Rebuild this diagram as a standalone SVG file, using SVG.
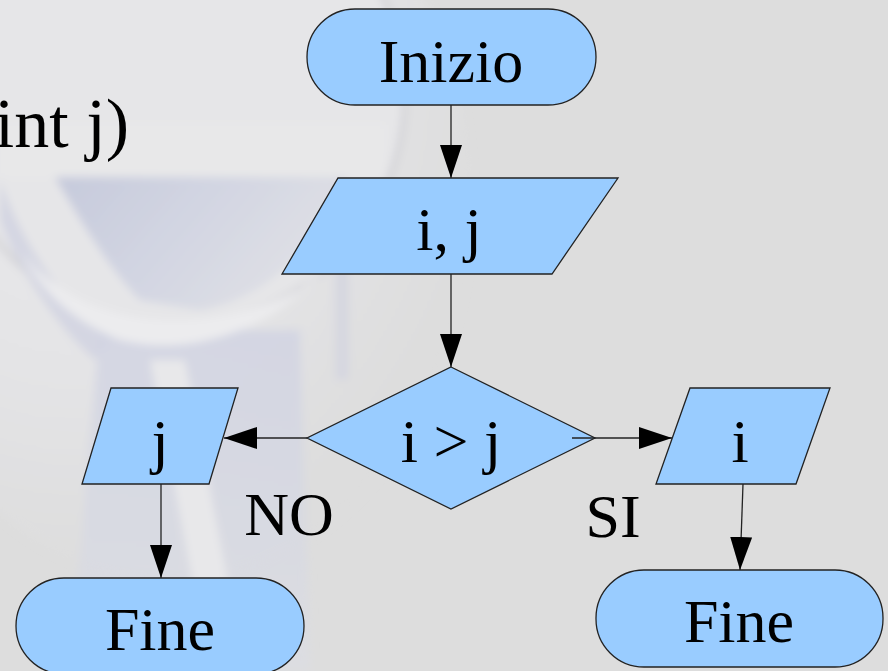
<svg xmlns="http://www.w3.org/2000/svg" width="888" height="671" viewBox="0 0 888 671">
  <defs>
    <style>
      .node { fill: #99ccff; stroke: #222; stroke-width: 1.3; }
      .label { font-family: "Liberation Serif", "Times New Roman", serif; font-size: 62px; fill: #000; text-anchor: middle; }
      .edge { fill: none; stroke: #222; stroke-width: 1.3; marker-end: url(#arrow); }
    </style>
    <marker id="arrow" viewBox="0 0 33 22" refX="33" refY="11" markerWidth="33" markerHeight="22" markerUnits="userSpaceOnUse" orient="auto">
      <path d="M0,0 L33,11 L0,22 z" fill="#000"/>
    </marker>
    <filter id="soft" x="-20%" y="-20%" width="140%" height="140%">
      <feGaussianBlur stdDeviation="4"/>
    </filter>
    <radialGradient id="glow" cx="0.35" cy="0.3" r="0.7">
      <stop offset="0" stop-color="#ebebed"/>
      <stop offset="0.6" stop-color="#e4e4e6"/>
      <stop offset="1" stop-color="#dddddd"/>
    </radialGradient>
    <linearGradient id="blueish" x1="0" y1="0" x2="1" y2="0.4">
      <stop offset="0" stop-color="#c6cadc"/>
      <stop offset="0.5" stop-color="#d2d5e2"/>
      <stop offset="1" stop-color="#dfe0e5"/>
    </linearGradient>
    <linearGradient id="blueishV" x1="0" y1="0" x2="0" y2="1">
      <stop offset="0" stop-color="#d0d3e2"/>
      <stop offset="1" stop-color="#dcdde3"/>
    </linearGradient>
  </defs>

  <!-- background -->
  <rect width="888" height="671" fill="#dddddd"/>

  <!-- faded logo in the background -->
  <g id="watermark" filter="url(#soft)">
    <ellipse cx="170" cy="200" rx="300" ry="380" fill="url(#glow)"/>
    <circle cx="175" cy="95" r="230" fill="#e6e6e8" stroke="#d4d4d8" stroke-width="6"/>
    <rect x="0" y="125" width="385" height="52" fill="#e8e8e9"/>
    <path d="M55,177 L345,177 L330,215 C300,260 260,300 200,310 L140,300 C110,270 80,220 55,177 z" fill="url(#blueish)"/>
    <path d="M0,180 C20,240 60,300 110,340 L95,360 C50,320 15,260 0,220 z" fill="#d4d6e2"/>
    <path d="M100,330 L300,330 L310,671 L70,671 z" fill="url(#blueishV)" opacity="0.8"/>
    <path d="M150,360 L185,360 L245,671 L210,671 z" fill="#e8e8ea"/>
    <path d="M20,250 C80,330 200,340 300,290 L330,260 C290,320 200,360 120,340 C70,320 40,290 20,250 z" fill="#ececee"/>
    <rect x="335" y="180" width="14" height="200" fill="#d6d7e0"/>
  </g>

  <!-- partial heading text -->
  <text x="129" y="147" class="label" style="text-anchor:end;font-size:70px">int j)</text>

  <!-- connectors -->
  <g id="connectors">
    <line class="edge" x1="451" y1="105" x2="451" y2="178"/>
    <line class="edge" x1="451" y1="274" x2="451" y2="367"/>
    <line class="edge" x1="307" y1="438" x2="224" y2="438"/>
    <line class="edge" x1="161" y1="484" x2="161" y2="578"/>
    <line class="edge" x1="743" y1="484" x2="740" y2="570"/>
  </g>

  <g id="start">
    <rect class="node" x="307" y="9" width="289" height="96" rx="48" ry="48"/>
    <text class="label" x="451" y="82">Inizio</text>
  </g>

  <g id="input">
    <polygon class="node" points="338,178 618,178 552,274 282,274"/>
    <text class="label" x="449" y="250">i, j</text>
  </g>

  <g id="decision">
    <polygon class="node" points="451,367 595,438 451,509 307,438"/>
    <text class="label" x="451" y="462">i &gt; j</text>
  </g>

  <!-- yes branch connector drawn over the decision shape -->
  <g id="connectors-yes">
    <line class="edge" x1="572" y1="438" x2="672" y2="438"/>
  </g>

  <g id="out-j">
    <polygon class="node" points="111,388 238,388 209,484 82,484"/>
    <text class="label" x="160" y="462">j</text>
  </g>

  <g id="out-i">
    <polygon class="node" points="690,388 830,388 796,484 656,484"/>
    <text class="label" x="740" y="462">i</text>
  </g>

  <g id="end-no">
    <rect class="node" x="16" y="578" width="288" height="96" rx="48" ry="48"/>
    <text class="label" x="160" y="650">Fine</text>
  </g>

  <g id="end-yes">
    <rect class="node" x="596" y="570" width="287" height="97" rx="48" ry="48"/>
    <text class="label" x="739" y="642">Fine</text>
  </g>

  <g id="edge-labels">
    <text class="label" x="289" y="535">NO</text>
    <text class="label" x="613" y="537">SI</text>
  </g>
</svg>
